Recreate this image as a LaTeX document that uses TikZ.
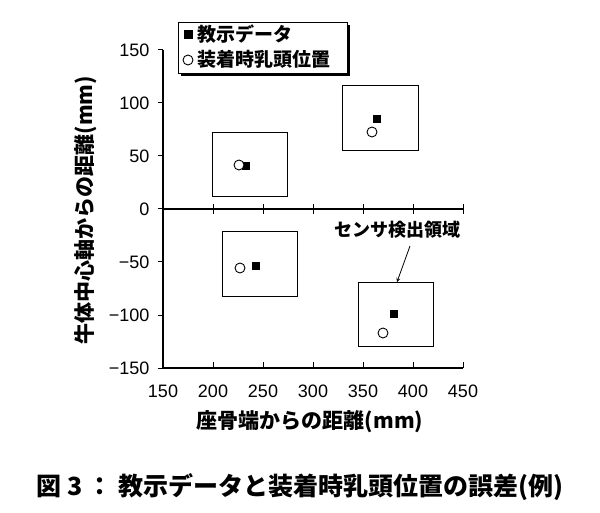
\documentclass[tikz,border=0pt]{standalone}
\usepackage{fontspec}
\setmainfont{Liberation Sans}
\newfontfamily\jp{Noto Sans CJK JP}
\begin{document}
\begin{tikzpicture}[x=1pt,y=-1pt,
  frm/.style={line width=1.6pt},
  reg/.style={draw,line width=0.8pt},
  sq/.style={fill=black,minimum size=8pt,inner sep=0pt},
  circ/.style={draw,circle,line width=0.9pt,minimum size=10pt,inner sep=0pt},
  tl/.style={font=\fontsize{18}{18}\selectfont},
  lbl/.style={font=\jp\bfseries\fontsize{19}{19}\selectfont}]
\useasboundingbox (0,0) rectangle (600,513);
% axes
\draw[frm] (163,50) -- (163,368) -- (463,368);
\draw[frm] (163,209) -- (463,209);
\foreach \v in {150,200,...,450}{
  \pgfmathsetmacro\px{163+(\v-150)}
  \draw[line width=1pt] (\px,204) -- (\px,214);
  \draw[line width=1pt] (\px,368) -- (\px,362);
  \node[tl,anchor=north] (xt\v) at (\px,381) {\v};
}
\foreach \v/\t/\py in {150/150/50,100/100/103,50/50/156,0/0/209,-50/−50/262,-100/−100/315,-150/−150/368}{
  \draw[line width=1pt] (158,\py) -- (163,\py);
  \node[tl,anchor=east] (yt\v) at (153,\py) {\t};
}
% sensor regions
\node[reg,minimum width=75pt,minimum height=64pt,inner sep=0pt] (r1) at (249.5,164) {};
\node[reg,minimum width=76pt,minimum height=65pt,inner sep=0pt] (r2) at (380,117.5) {};
\node[reg,minimum width=75pt,minimum height=65pt,inner sep=0pt] (r3) at (259.5,263.5) {};
\node[reg,minimum width=75pt,minimum height=64pt,inner sep=0pt] (r4) at (395.5,314) {};
% points
\node[sq] (s1) at (246,166) {}; \node[circ,fill=white] (c1) at (239,165) {};
\node[sq] (s2) at (377,119) {}; \node[circ] (c2) at (372,132) {};
\node[sq] (s3) at (256,266) {}; \node[circ] (c3) at (240,268) {};
\node[sq] (s4) at (394,314) {}; \node[circ] (c4) at (383,333) {};
% annotation
\node[lbl,font=\jp\bfseries\fontsize{18}{18}\selectfont] (ann) at (397,230) {センサ検出領域};
\coordinate (annend) at (397,282);
\draw[-stealth,line width=0.8pt] (410,246) -- (annend);
% legend
\fill[black] (181,25) rectangle (350,76);
\node[draw,fill=white,line width=0.8pt,minimum width=169pt,minimum height=51pt,inner sep=0pt] (leg) at (262.5,47.5) {};
\node[sq,minimum size=9pt] (ls) at (188,35) {};
\node[lbl,anchor=west] (lt1) at (194,34) {教示データ};
\node[circ,minimum size=10pt] (lc) at (188,60) {};
\node[lbl,anchor=west] (lt2) at (194,59) {装着時乳頭位置};
% axis labels
\node[lbl,font=\jp\bfseries\fontsize{21}{21}\selectfont] (xl) at (310,422) {座骨端からの距離(mm)};
\node[lbl,font=\jp\bfseries\fontsize{21}{21}\selectfont,rotate=90] (yl) at (86,210) {牛体中心軸からの距離(mm)};
\node[lbl,font=\jp\bfseries\fontsize{25}{25}\selectfont] (cap) at (300,487) {図 3 ： 教示データと装着時乳頭位置の誤差(例)};
\end{tikzpicture}
\end{document}
